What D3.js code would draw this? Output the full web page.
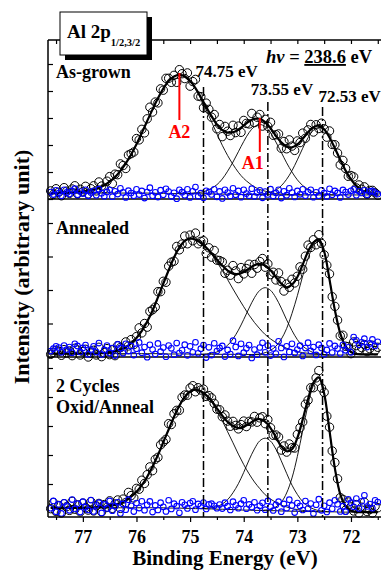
<!DOCTYPE html>
<html>
<head>
<meta charset="utf-8">
<script src="https://cdn.jsdelivr.net/npm/d3@7"></script>
<style>
  body { margin: 0; background: #fff; }
  svg text { font-family: "Liberation Serif", "Times New Roman", serif; font-weight: bold; fill: #000; }
</style>
</head>
<body>
<svg id="chart" width="381" height="572"></svg>
<script>
// binding energy grids (eV): fit + components every 0.1 eV, measured points every 0.05 eV
const fitEnergy = d3.range(776, 714, -1).map(d => d / 10);    // 77.6 ... 71.5
const dataEnergy = d3.range(1552, 1429, -1).map(d => d / 20); // 77.60 ... 71.50

const xTicks = [77, 76, 75, 74, 73, 72];
const xMinorTicks = [77.5, 76.5, 75.5, 74.5, 73.5, 72.5, 71.5];
const peakLines = [74.75, 73.55, 72.53];

// ---- As-grown ----
const asGrownBg = [.22,.22,.22,.22,.22,.22,.22,.22,.22,.22,
  .22,.22,.22,.22,.22,.22,.22,.22,.22,.21,
  .21,.21,.21,.20,.20,.20,.20,.20,.19,.19,
  .19,.18,.18,.18,.18,.17,.17,.17,.16,.16,
  .16,.16,.15,.15,.15,.15,.15,.15,.15,.15,
  .15,.15,.15,.15,.15,.15,.15,.15,.15,.15,
  .15,.15];
const asGrownA2 = [0,0,.01,.01,.02,.03,.05,.08,.13,.19,
  .29,.42,.59,.82,1.10,1.43,1.81,2.23,2.67,3.11,
  3.52,3.88,4.16,4.34,4.40,4.34,4.16,3.88,3.52,3.11,
  2.67,2.23,1.81,1.43,1.10,.82,.59,.42,.29,.19,
  .13,.08,.05,.03,.02,.01,.01,0,0,0,
  0,0,0,0,0,0,0,0,0,0,
  0,0];
const asGrownA1 = [0,0,0,0,0,0,0,0,0,0,
  0,0,0,0,0,0,0,0,0,0,
  0,0,0,0,0,0,.01,.03,.06,.11,
  .21,.35,.56,.85,1.19,1.58,1.96,2.29,2.52,2.60,
  2.52,2.29,1.96,1.58,1.19,.85,.56,.35,.21,.11,
  .06,.03,.01,0,0,0,0,0,0,0,
  0,0];
const asGrownP3 = [0,0,0,0,0,0,0,0,0,0,
  0,0,0,0,0,0,0,0,0,0,
  0,0,0,0,0,0,0,0,0,0,
  0,0,0,0,0,0,0,0,0,.02,
  .04,.09,.18,.34,.58,.90,1.30,1.73,2.12,2.40,
  2.50,2.40,2.12,1.73,1.30,.90,.58,.34,.18,.09,
  .04,.02];
const asGrownData = [.30,.17,.38,.25,.12,.42,.29,.21,.37,.49,
  .19,.36,.27,.47,.19,.38,.49,.30,.63,.48,
  .38,.66,.83,.57,.92,.90,1.30,1.24,1.13,1.63,
  1.68,1.74,2.24,2.19,2.58,2.45,2.97,3.40,3.22,3.59,
  3.56,4.08,4.03,4.47,4.47,4.32,4.58,4.32,4.79,4.64,
  4.46,4.67,4.18,4.35,4.43,3.81,3.79,3.38,3.55,3.32,
  3.03,3.13,2.60,2.76,2.31,2.69,2.51,2.35,2.73,2.46,
  2.70,2.47,2.91,2.80,2.78,3.17,2.83,3.03,3.13,2.70,
  2.95,2.69,2.84,2.36,2.38,2.41,1.88,2.13,1.86,2.19,
  1.96,1.80,2.15,2.09,2.44,2.25,2.56,2.76,2.48,2.75,
  2.61,2.81,2.60,2.29,2.52,2.02,2.01,1.70,1.26,1.43,
  1.13,.84,.87,.82,.41,.52,.36,.45,.18,.32,
  .32,.23,.14];

// ---- Annealed ----
const annealedBg = [.10,.10,.10,.10,.10,.10,.10,.10,.10,.10,
  .10,.10,.10,.10,.10,.10,.10,.10,.10,.10,
  .10,.10,.09,.09,.09,.09,.09,.08,.08,.08,
  .08,.08,.08,.08,.08,.08,.08,.07,.07,.07,
  .07,.07,.07,.07,.07,.07,.06,.06,.06,.06,
  .06,.06,.06,.06,.06,.06,.07,.07,.08,.08,
  .08,.08];
const annealedA2 = [0,0,0,0,0,0,0,0,0,.01,
  .02,.04,.07,.12,.19,.31,.47,.68,.96,1.29,
  1.68,2.09,2.50,2.88,3.18,3.38,3.45,3.42,3.33,3.18,
  2.99,2.76,2.50,2.23,1.95,1.68,1.42,1.18,.96,.77,
  .60,.47,.36,.27,.19,.14,.10,.07,.05,.03,
  .02,.01,0,0,0,0,0,0,0,0,
  0,0];
const annealedA1 = [0,0,0,0,0,0,0,0,0,0,
  0,0,0,0,0,0,0,0,0,0,
  0,0,0,0,0,0,0,0,0,.01,
  .03,.07,.15,.27,.46,.72,1.04,1.39,1.70,1.92,
  2.00,1.92,1.70,1.39,1.04,.72,.46,.27,.15,.07,
  .03,.01,0,0,0,0,0,0,0,0,
  0,0];
const annealedP3 = [0,0,0,0,0,0,0,0,0,0,
  0,0,0,0,0,0,0,0,0,0,
  0,0,0,0,0,0,0,0,0,0,
  0,0,0,0,0,0,0,0,.01,.02,
  .06,.13,.25,.46,.78,1.23,1.77,2.36,2.89,3.26,
  3.40,3.07,2.25,1.34,.65,.26,.08,.02,0,0,
  0,0];
const annealedData = [.08,.14,.20,.17,.05,.22,.12,.18,.04,.26,
  .21,.06,.16,.23,.00,.12,.20,.06,.29,.01,
  .13,.25,.07,.21,.04,.34,.28,.18,.45,.33,
  .52,.37,.61,.87,.72,1.00,.89,1.36,1.41,1.49,
  1.95,1.95,2.26,2.23,2.71,2.83,2.86,3.30,3.20,3.37,
  3.61,3.38,3.64,3.47,3.70,3.38,3.45,3.47,3.09,3.26,
  2.98,3.18,2.89,2.88,2.84,2.50,2.59,2.44,2.73,2.57,
  2.34,2.67,2.48,2.64,2.77,2.50,2.76,2.65,2.85,2.94,
  2.68,2.78,2.46,2.53,2.30,2.51,2.25,1.97,2.18,2.08,
  2.32,2.21,2.41,2.69,2.62,3.01,3.34,3.27,3.50,3.35,
  3.65,3.39,3.05,2.74,2.48,1.80,1.51,1.10,.63,.65,
  .32,.31,.10,.45,.34,.22,.28,.37,.16,.25,
  .35,.19,.29];

// ---- 2 cycles oxidation / anneal ----
const cycledBg = [.18,.18,.18,.18,.18,.18,.18,.18,.18,.18,
  .18,.18,.18,.18,.18,.18,.18,.18,.18,.18,
  .18,.18,.17,.17,.17,.16,.16,.15,.15,.14,
  .14,.13,.13,.12,.12,.11,.10,.10,.09,.09,
  .08,.08,.08,.07,.07,.06,.06,.05,.05,.05,
  .04,.04,.04,.04,.03,.03,.03,.03,.03,.03,
  .03,.03];
const cycledA2 = [0,0,0,0,0,0,0,0,.01,.02,
  .03,.06,.10,.16,.25,.38,.55,.78,1.07,1.42,
  1.82,2.26,2.71,3.15,3.53,3.84,4.03,4.10,4.05,3.91,
  3.69,3.39,3.05,2.68,2.30,1.92,1.57,1.25,.98,.75,
  .55,.40,.29,.20,.14,.09,.06,.04,.02,.01,
  0,0,0,0,0,0,0,0,0,0,
  0,0];
const cycledA1 = [0,0,0,0,0,0,0,0,0,0,
  0,0,0,0,0,0,0,0,0,0,
  0,0,0,0,0,0,0,0,0,.02,
  .04,.09,.18,.34,.58,.90,1.30,1.73,2.12,2.40,
  2.50,2.40,2.12,1.73,1.30,.90,.58,.34,.18,.09,
  .04,.02,0,0,0,0,0,0,0,0,
  0,0];
const cycledP3 = [0,0,0,0,0,0,0,0,0,0,
  0,0,0,0,0,0,0,0,0,0,
  0,0,0,0,0,0,0,0,0,0,
  0,0,0,0,0,0,0,0,0,0,
  .02,.05,.13,.30,.62,1.15,1.89,2.79,3.68,4.35,
  4.60,4.06,2.79,1.50,.62,.20,.05,.01,0,0,
  0,0];
const cycledData = [.15,.36,.05,.26,.00,.32,.22,.09,.40,.13,
  .28,.04,.34,.18,.10,.39,.07,.25,.33,.04,
  .29,.19,.42,.16,.31,.45,.16,.48,.36,.71,
  .60,.52,.85,.82,1.13,1.02,1.32,1.59,1.46,1.85,
  1.92,2.35,2.45,2.54,3.08,3.05,3.42,3.54,3.54,3.99,
  4.07,4.06,4.31,4.39,4.18,4.32,4.24,4.27,4.02,4.05,
  3.97,3.78,3.58,3.56,3.32,3.38,3.17,2.99,3.16,3.02,
  2.90,3.05,3.17,2.98,3.16,3.14,3.33,3.13,3.28,3.32,
  3.08,3.22,2.94,2.68,2.69,2.62,2.17,2.31,2.10,2.38,
  2.25,2.24,2.71,2.94,3.14,3.75,3.89,4.32,4.32,4.66,
  4.91,4.31,4.16,3.34,2.96,2.14,1.74,1.18,.53,.47,
  .10,.38,.21,.07,.29,.00,.20,.37,.05,.12,
  .00,.23,.18];

const panels = [
  { label: ['As-grown'], labelY: 78, zeroY: 199, unit: 27, ticks: [0, 1, 2, 3, 4, 5], baseline: true,
    bg: asGrownBg, comps: [asGrownA2, asGrownA1, asGrownP3], data: asGrownData, residGain: 0.75 },
  { label: ['Annealed'], labelY: 234, zeroY: 357, unit: 33.5, ticks: [0, 1, 2, 3, 4], baseline: true,
    bg: annealedBg, comps: [annealedA2, annealedA1, annealedP3], data: annealedData, residGain: 1.2 },
  { label: ['2 Cycles', 'Oxid/Anneal'], labelY: 392, zeroY: 513, unit: 29, ticks: [1, 2, 3, 4, 5], baseline: false,
    bg: cycledBg, comps: [cycledA2, cycledA1, cycledP3], data: cycledData, residGain: 1.2 },
];

const svg = d3.select('#chart');
const plotLeft = 48, plotRight = 381, plotTop = 40, plotBottom = 517;

const x = d3.scaleLinear().domain([77.65, 71.44]).range([plotLeft, plotRight]);

panels.forEach(p => {
  const y = d3.scaleLinear().domain([0, 1]).range([p.zeroY, p.zeroY - p.unit]);
  const line = d3.line().x(d => x(d[0])).y(d => y(d[1])).curve(d3.curveCatmullRom.alpha(0.5));
  const g = svg.append('g');

  const fit = fitEnergy.map((e, i) => p.bg[i] + p.comps.reduce((s, c) => s + c[i], 0));
  const fitAt = j => j % 2 === 0 ? fit[j / 2] : (fit[(j - 1) / 2] + fit[(j + 1) / 2]) / 2;
  const resid = p.data.map((v, j) => (v - fitAt(j)) * p.residGain + 0.2);

  if (p.baseline) {
    g.append('line')
      .attr('x1', plotLeft).attr('x2', plotRight)
      .attr('y1', y(0)).attr('y2', y(0))
      .attr('stroke', '#000').attr('stroke-width', 1.6);
  }

  // background
  g.append('path')
    .attr('d', line(fitEnergy.map((e, i) => [e, p.bg[i]])))
    .attr('fill', 'none').attr('stroke', '#000').attr('stroke-width', 0.9);

  // fitted components
  p.comps.forEach(c => {
    const pts = fitEnergy
      .map((e, i) => [e, p.bg[i] + c[i], i])
      .filter(d => c[d[2]] > 0 || c[d[2] - 1] > 0 || c[d[2] + 1] > 0);
    g.append('path')
      .attr('d', line(pts))
      .attr('fill', 'none').attr('stroke', '#000').attr('stroke-width', 0.9);
  });

  // measured points
  g.selectAll('circle.pt')
    .data(p.data)
    .join('circle')
      .attr('class', 'pt')
      .attr('cx', (d, j) => x(dataEnergy[j]))
      .attr('cy', d => y(d))
      .attr('r', 4.2)
      .attr('fill', 'none').attr('stroke', '#000').attr('stroke-width', 1);

  // envelope
  g.append('path')
    .attr('d', line(fitEnergy.map((e, i) => [e, fit[i]])))
    .attr('fill', 'none').attr('stroke', '#000').attr('stroke-width', 2.2);

  // residual
  g.selectAll('circle.res')
    .data(resid)
    .join('circle')
      .attr('class', 'res')
      .attr('cx', (d, j) => x(dataEnergy[j]))
      .attr('cy', d => y(d))
      .attr('r', 2.8)
      .attr('fill', 'none').attr('stroke', '#0000ff').attr('stroke-width', 1.1);

  // left ticks
  const ax = g.append('g')
    .attr('transform', `translate(${plotLeft},0)`)
    .call(d3.axisLeft(y).tickValues(p.ticks).tickSize(-5).tickFormat(''));
  ax.select('.domain').remove();
  ax.selectAll('line').attr('stroke', '#000').attr('stroke-width', 1.2);

  p.label.forEach((t, k) => {
    g.append('text')
      .attr('x', 56).attr('y', p.labelY + k * 21)
      .attr('font-size', 18)
      .text(t);
  });
});

// dash-dot peak positions
const peakLabelDx = [-8, -17, -4];
const peakLineTop = [87, 102, 107];
const peakLabelY = [77, 95, 102];
peakLines.forEach((e, k) => {
  svg.append('line')
    .attr('x1', x(e)).attr('x2', x(e))
    .attr('y1', peakLineTop[k]).attr('y2', plotBottom)
    .attr('stroke', '#000').attr('stroke-width', 1.5)
    .attr('stroke-dasharray', '9,3,2,3');
  svg.append('text')
    .attr('x', x(e) + peakLabelDx[k]).attr('y', peakLabelY[k])
    .attr('font-size', 17)
    .text(`${e.toFixed(2)} eV`);
});

// red markers for A2 / A1
const marks = [
  { name: 'A2', energy: 75.2, y1: 73, y2: 120, labelY: 138, dx: 0 },
  { name: 'A1', energy: 73.7, y1: 118, y2: 152, labelY: 169, dx: -7 },
];
marks.forEach(m => {
  svg.append('line')
    .attr('x1', x(m.energy)).attr('x2', x(m.energy))
    .attr('y1', m.y1).attr('y2', m.y2)
    .attr('stroke', '#ff0000').attr('stroke-width', 2);
  svg.append('text')
    .attr('x', x(m.energy) + m.dx).attr('y', m.labelY)
    .attr('text-anchor', 'middle')
    .attr('font-size', 18)
    .style('fill', '#ff0000')
    .text(m.name);
});

// frame
svg.append('line').attr('x1', plotLeft).attr('x2', plotLeft).attr('y1', plotTop).attr('y2', plotBottom)
  .attr('stroke', '#000').attr('stroke-width', 1.5);
svg.append('line').attr('x1', plotLeft).attr('x2', plotRight).attr('y1', plotTop).attr('y2', plotTop)
  .attr('stroke', '#000').attr('stroke-width', 1.5);

// bottom axis
const xAxis = svg.append('g')
  .attr('transform', `translate(0,${plotBottom})`)
  .call(d3.axisBottom(x).tickValues(xTicks).tickSize(5).tickSizeOuter(0).tickFormat(d3.format('d')));
xAxis.select('.domain').attr('stroke-width', 1.5).attr('d', `M${plotLeft},0H${plotRight}`);
xAxis.selectAll('line').attr('stroke-width', 1.2);
xAxis.selectAll('text')
  .attr('y', 26).attr('dy', 0)
  .attr('font-size', 18)
  .style('font-family', '"Liberation Serif", serif').style('font-weight', 'bold');
svg.append('g')
  .attr('transform', `translate(0,${plotBottom})`)
  .call(d3.axisBottom(x).tickValues(xMinorTicks).tickSize(3).tickFormat(''))
  .call(s => s.select('.domain').remove())
  .selectAll('line').attr('stroke-width', 1.2);

// top ticks (inward)
svg.append('g')
  .attr('transform', `translate(0,${plotTop})`)
  .call(d3.axisTop(x).tickValues(xTicks.concat(xMinorTicks)).tickSize(-4).tickFormat(''))
  .call(s => s.select('.domain').remove())
  .selectAll('line').attr('stroke-width', 1.2);

// title box with shadow
svg.append('rect').attr('x', 65).attr('y', 17).attr('width', 87).attr('height', 43).attr('fill', '#000');
svg.append('rect').attr('x', 60).attr('y', 12).attr('width', 87).attr('height', 43)
  .attr('fill', '#fff').attr('stroke', '#000').attr('stroke-width', 1);
const title = svg.append('text').attr('x', 67).attr('y', 38).attr('font-size', 19);
title.append('tspan').text('Al 2p');
title.append('tspan').attr('font-size', 10.5).attr('dy', 8).text('1/2,3/2');

// photon energy
const hv = svg.append('text').attr('x', 266).attr('y', 63).attr('font-size', 18.5);
hv.append('tspan').style('font-style', 'italic').text('hv');
hv.append('tspan').text(' = ');
hv.append('tspan').style('text-decoration', 'underline').text('238.6');
hv.append('tspan').text(' eV');

// axis titles
svg.append('text')
  .attr('transform', 'translate(29,267) rotate(-90)')
  .attr('text-anchor', 'middle')
  .attr('font-size', 22)
  .text('Intensity (arbitrary unit)');
svg.append('text')
  .attr('x', 225).attr('y', 565)
  .attr('text-anchor', 'middle')
  .attr('font-size', 21)
  .text('Binding Energy (eV)');
</script>
</body>
</html>
